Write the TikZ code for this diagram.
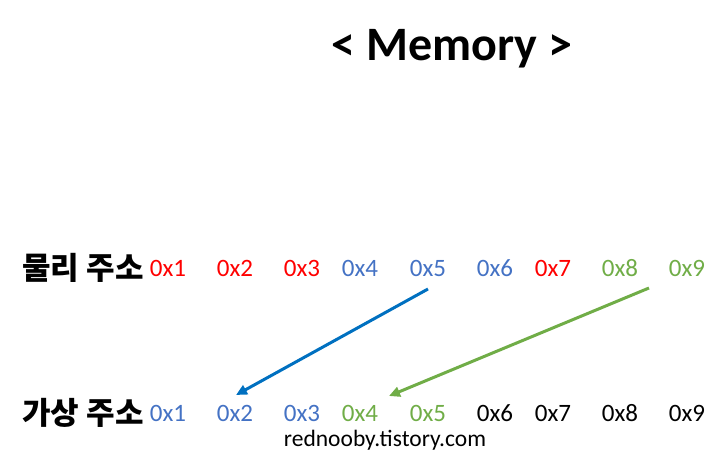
\documentclass[tikz,border=0pt]{standalone}
\usepackage{fontspec}
\setmainfont{Carlito}
\newfontfamily\kr{Noto Sans CJK KR}
\usetikzlibrary{arrows.meta}
\definecolor{cred}{HTML}{FF0000}
\definecolor{cblue}{HTML}{4472C4}
\definecolor{cgreen}{HTML}{70AD47}
\definecolor{ablue}{HTML}{0070C0}
\definecolor{agreen}{HTML}{70AD47}
\tikzset{
  hex/.style={inner sep=0pt, anchor=center, font=\fontsize{25}{28}\selectfont},
  rowlabel/.style={inner sep=0pt, anchor=center, font=\kr\bfseries\fontsize{31}{34}\selectfont},
  arr/.style={line width=3pt, -{Triangle[length=11pt,width=10pt]}},
}
\begin{document}
\begin{tikzpicture}[x=1pt,y=-1pt]
\useasboundingbox (0,0) rectangle (720,468);
\node[inner sep=0pt, font=\bfseries\fontsize{48}{52}\selectfont] (title) at (452,49) {< Memory >};
\node[rowlabel] (plabel) at (83,268) {물리 주소};
\node[rowlabel] (vlabel) at (83,413) {가상 주소};
\node[hex, text=cred]   (t1) at (168,268) {0x1};
\node[hex, text=cred]   (t2) at (235,268) {0x2};
\node[hex, text=cred]   (t3) at (302,268) {0x3};
\node[hex, text=cblue]  (t4) at (360,268) {0x4};
\node[hex, text=cblue]  (t5) at (428,268) {0x5};
\node[hex, text=cblue]  (t6) at (495,268) {0x6};
\node[hex, text=cred]   (t7) at (553,268) {0x7};
\node[hex, text=cgreen] (t8) at (620,268) {0x8};
\node[hex, text=cgreen] (t9) at (687,268) {0x9};
\node[hex, text=cblue]  (b1) at (168,413) {0x1};
\node[hex, text=cblue]  (b2) at (235,413) {0x2};
\node[hex, text=cblue]  (b3) at (302,413) {0x3};
\node[hex, text=cgreen] (b4) at (360,413) {0x4};
\node[hex, text=cgreen] (b5) at (428,413) {0x5};
\node[hex]              (b6) at (495,413) {0x6};
\node[hex]              (b7) at (553,413) {0x7};
\node[hex]              (b8) at (620,413) {0x8};
\node[hex]              (b9) at (687,413) {0x9};
\node[inner sep=0pt, font=\fontsize{23.5}{26}\selectfont] (wm) at (385,440) {rednooby.tistory.com};
\draw[arr, ablue] ([yshift=-21pt]t5.center) -- ([xshift=1pt,yshift=18pt]b2.center);
\draw[arr, agreen] ([xshift=29pt,yshift=-20pt]t8.center) -- ([xshift=29pt,yshift=17pt]b4.center);
\end{tikzpicture}
\end{document}
